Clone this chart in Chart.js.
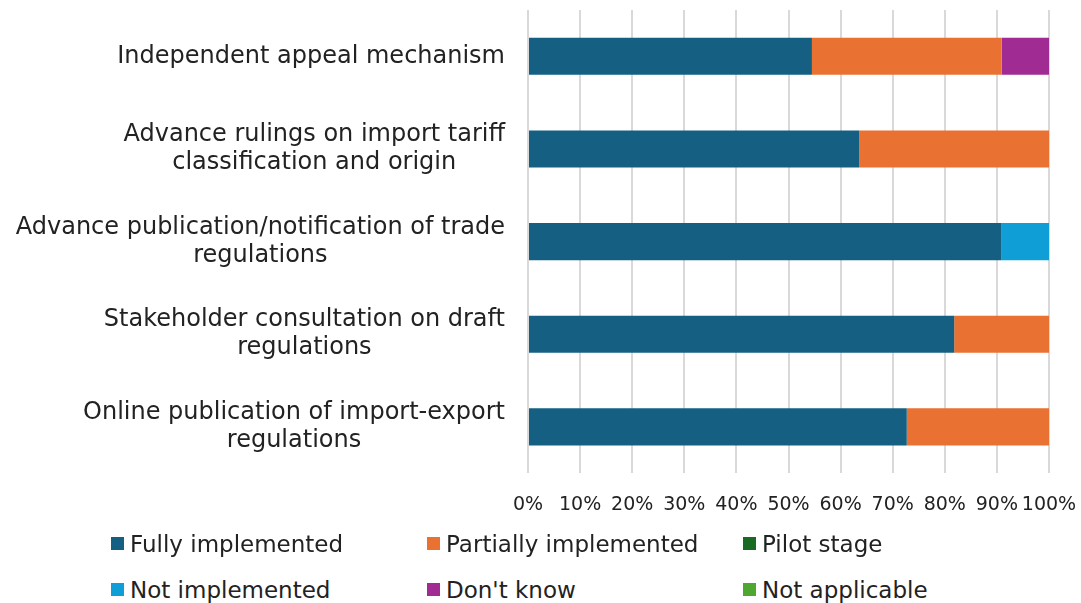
<html>
<head>
<script src="https://cdn.jsdelivr.net/npm/chart.js@4.4.0/dist/chart.umd.min.js"></script>
<style>
	body { margin: 0; background: #fff; }
	#wrap { position: relative; width: 1081px; height: 536px; }
	#legend { position: absolute; left: 111px; top: 531px; width: 970px; font-family: "DejaVu Sans", sans-serif; font-size: 23px; color: #222; }
	.item { position: absolute; white-space: nowrap; }
	.box { display: inline-block; width: 13px; height: 13px; margin-right: 6px; vertical-align: 2px; }
</style>
<script>
	// categories, top to bottom
	var categories = [
		"Independent appeal mechanism",
		["Advance rulings on import tariff", "classification and origin"],
		["Advance publication/notification of trade", "regulations"],
		["Stakeholder consultation on draft", "regulations"],
		["Online publication of import-export", "regulations"]
	];
	var seriesNames = ["Fully implemented", "Partially implemented", "Pilot stage", "Not implemented", "Don't know", "Not applicable"];
	var seriesColors = ["#156082", "#E97132", "#196B24", "#0F9ED5", "#A02B93", "#4EA72E"];

	// share of countries, percent
	var fully     = [54.5, 63.6, 90.9, 81.8, 72.7];
	var partially = [36.4, 36.4, 0, 18.2, 27.3];
	var pilot     = [0, 0, 0, 0, 0];
	var notImpl   = [0, 0, 9.1, 0, 0];
	var dontKnow  = [9.1, 0, 0, 0, 0];
	var notAppl   = [0, 0, 0, 0, 0];
	var xTicks = [0, 10, 20, 30, 40, 50, 60, 70, 80, 90, 100];
</script>
</head>
<body>
	<div id="wrap"><canvas id="myChart"></canvas></div>
	<div id="legend"></div>
<script>
	var values = [fully, partially, pilot, notImpl, dontKnow, notAppl];
	var datasets = [];
	for (var i = 0; i < seriesNames.length; ++i) {
		datasets.push({
			label: seriesNames[i],
			data: values[i],
			backgroundColor: seriesColors[i],
			barPercentage: 0.8,
			categoryPercentage: 0.5
		});
	}

	// category labels: block right-aligned to the axis, lines centred on each other
	var centredLabels = {
		id: 'centredLabels',
		afterDraw: function (chart) {
			var c = chart.ctx, y = chart.scales.y;
			var right = chart.chartArea.left - 23, lh = 28;
			c.save();
			c.font = '24px "DejaVu Sans"';
			c.fillStyle = '#222';
			c.textAlign = 'center';
			c.textBaseline = 'middle';
			for (var k = 0; k < categories.length; ++k) {
				var lines = [].concat(categories[k]);
				var w = 0;
				lines.forEach(function (t) { w = Math.max(w, c.measureText(t).width); });
				var cy = y.getPixelForTick(k) - (lines.length - 1) * lh / 2;
				for (var n = 0; n < lines.length; ++n) {
					c.fillText(lines[n], right - w / 2, cy + n * lh);
				}
			}
			c.restore();
		}
	};

	var ctx = document.getElementById('myChart').getContext('2d');
	var chart = new Chart(ctx, {
		type: 'bar',
		data: { labels: categories, datasets: datasets },
		plugins: [centredLabels],
		options: {
			indexAxis: 'y',
			responsive: true,
			maintainAspectRatio: false,
			animation: false,
			layout: { padding: { top: 10, right: 32, bottom: 0, left: 0 } },
			plugins: { legend: { display: false }, tooltip: { enabled: false } },
			scales: {
				x: {
					stacked: true,
					min: 0, max: 100,
					afterBuildTicks: function (s) { s.ticks = xTicks.map(function (v) { return { value: v }; }); },
					afterFit: function (s) { s.paddingLeft = 0; s.paddingRight = 0; },
					ticks: { callback: function (v) { return v + '%'; }, color: '#222', font: { family: "DejaVu Sans", size: 19 }, padding: 20, maxRotation: 0, autoSkip: false },
					grid: { color: '#d9d9d9', lineWidth: 2, drawTicks: false },
					border: { display: false }
				},
				y: {
					stacked: true,
					afterFit: function (s) { s.width = 528; s.paddingTop = 0; s.paddingBottom = 0; },
					ticks: { display: false },
					grid: { display: false, drawTicks: false },
					border: { display: false }
				}
			}
		}
	});

	// legend in three columns, two rows
	var legend = document.getElementById('legend');
	for (var j = 0; j < datasets.length; ++j) {
		var d = document.createElement('div');
		d.className = 'item';
		d.style.left = (j % 3) * 316 + 'px';
		d.style.top = Math.floor(j / 3) * 46 + 'px';
		d.innerHTML = '<span class="box" style="background:' + datasets[j].backgroundColor + '"></span>' + datasets[j].label;
		legend.appendChild(d);
	}
</script>
</body>
</html>
